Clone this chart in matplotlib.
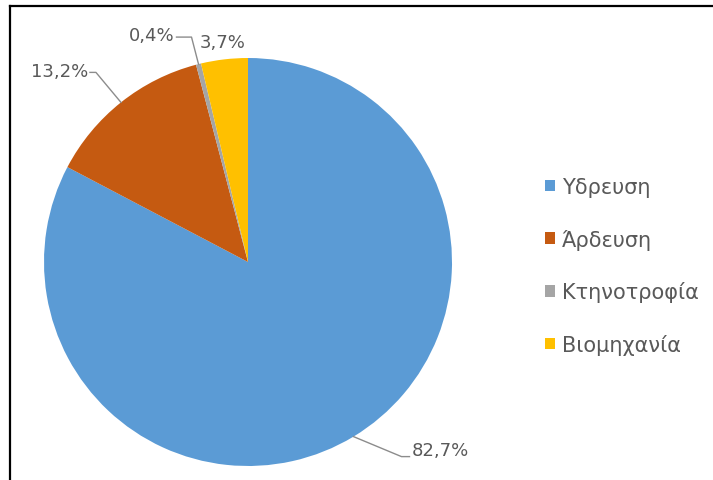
import numpy as np
import matplotlib
matplotlib.use('Agg')
import matplotlib.pyplot as plt
from matplotlib.lines import Line2D
from matplotlib.patches import Patch
from matplotlib.transforms import IdentityTransform

# -- Data
categories = ['Υδρευση', 'Άρδευση', 'Κτηνοτροφία', 'Βιομηχανία']
shares = [82.7, 13.2, 0.4, 3.7]
pct_labels = ['82,7%', '13,2%', '0,4%', '3,7%']
colors = ['#5B9BD5', '#C55A11', '#A5A5A5', '#FFC000']

TEXT_COLOR = '#595959'
LINE_COLOR = '#8c8c8c'
plt.rcParams['font.family'] = ['DejaVu Sans']

W, H = 713, 481
fig = plt.figure(figsize=(W / 100, H / 100), dpi=100)

# -- pie axes: centre (248, 263) px, radius 204 px
cx, cy, r = 248, 263, 204
ax = fig.add_axes([(cx - r) / W, (H - cy - r) / H, 2 * r / W, 2 * r / H])
wedges, _ = ax.pie(shares, colors=colors, startangle=90, counterclock=False,
                   radius=1, wedgeprops=dict(linewidth=0))
ax.set_xlim(-1, 1)
ax.set_ylim(-1, 1)
ax.set_aspect('equal')
ax.axis('off')

# -- label layout (pixel offsets from the wedge edge, y pointing down)
#    (text dx, text dy, ha, elbow points)
layout = [
    (58, 13, 'left', [(48, 20), (56, 20)]),
    (-33, -31, 'right', [(-25, -30), (-31, -30)]),
    (-24, -29, 'right', [(-7, -27), (-22, -27)]),
    (-2, -17, 'center', None),
]

ident = IdentityTransform()
for w, lab, (dx, dy, ha, elbow) in zip(wedges, pct_labels, layout):
    mid = np.deg2rad((w.theta1 + w.theta2) / 2)
    ex, ey = ax.transData.transform((np.cos(mid), np.sin(mid)))
    fig.text(ex + dx, ey - dy, lab, transform=ident, ha=ha, va='center',
             fontsize=13, color=TEXT_COLOR)
    if elbow:
        xs = [ex] + [ex + p[0] for p in elbow]
        ys = [ey] + [ey - p[1] for p in elbow]
        fig.add_artist(Line2D(xs, ys, transform=ident, color=LINE_COLOR, lw=1))

# -- legend on the right
handles = [Patch(facecolor=c, edgecolor='none') for c in colors]
fig.legend(handles, categories, loc='upper left',
           bbox_to_anchor=(545 / W, 1 - 178 / H), frameon=False,
           fontsize=15, labelcolor=TEXT_COLOR, handlelength=0.48,
           handleheight=0.48, handletextpad=0.34, labelspacing=1.52,
           borderpad=0, borderaxespad=0)

# -- frame lines (left and top) like the cropped screenshot
fig.add_artist(Line2D([10 / W, 10 / W], [0, 1 - 7 / H], color='black', lw=1.6))
fig.add_artist(Line2D([10 / W, 1], [1 - 7 / H, 1 - 7 / H], color='black', lw=1.6))

fig.savefig('out.png', dpi=100)
